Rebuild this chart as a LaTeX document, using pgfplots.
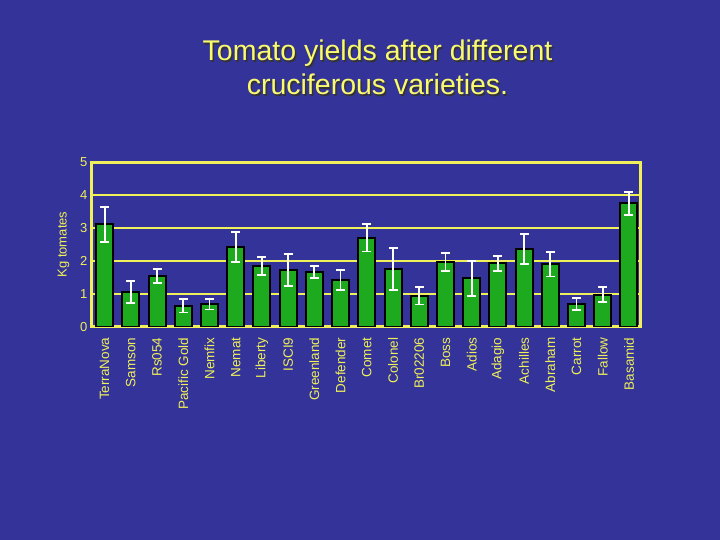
\documentclass[border=0pt]{standalone}
\usepackage{pgfplots}
\pgfplotsset{compat=1.18}
\usepackage{fontspec}
\setmainfont{Liberation Sans}
\definecolor{bg}{RGB}{51,51,153}
\definecolor{ylw}{RGB}{240,240,90}
\definecolor{titleylw}{RGB}{250,250,110}
\definecolor{bargreen}{RGB}{30,170,30}

\pgfplotstableread{
x y e
0 3.11 0.53
1 1.06 0.34
2 1.55 0.21
3 0.64 0.20
4 0.69 0.16
5 2.42 0.45
6 1.85 0.27
7 1.73 0.48
8 1.67 0.18
9 1.42 0.31
10 2.70 0.41
11 1.76 0.63
12 0.94 0.26
13 1.97 0.28
14 1.48 0.53
15 1.93 0.23
16 2.36 0.46
17 1.90 0.37
18 0.70 0.19
19 0.98 0.23
20 3.75 0.35
}\yields

\begin{document}
\begin{tikzpicture}[x=1pt,y=1pt]
\fill[bg] (0,0) rectangle (720,540);
% title with a soft shadow
\foreach \dx/\dy/\col in {1.5/-1.5/black!80, 0/0/titleylw}{
  \node[anchor=base, text=\col, font=\fontsize{28.5}{34}\selectfont] at (377.5+\dx,479+\dy) {Tomato yields after different};
  \node[anchor=base, text=\col, font=\fontsize{28.5}{34}\selectfont] at (377.5+\dx,445+\dy) {cruciferous varieties.};
}
\begin{axis}[
  at={(91pt,213pt)}, anchor=south west,
  scale only axis, width=549pt, height=165pt,
  xmin=-0.52, xmax=20.42, ymin=0, ymax=5,
  ytick={0,1,2,3,4,5},
  xtick=data,
  xticklabels={TerraNova,Samson,Rs054,Pacific Gold,Nemfix,Nemat,Liberty,ISCI9,Greenland,Defender,Comet,Colonel,Br02206,Boss,Adios,Adagio,Achilles,Abraham,Carrot,Fallow,Basamid},
  x tick label style={rotate=90, anchor=east, xshift=-7pt, font=\fontsize{13.5}{15}\selectfont},
  y tick label style={font=\fontsize{13}{15}\selectfont},
  ticklabel style={text=ylw},
  /pgf/number format/assume math mode=true,
  ymajorgrids, grid style={ylw, line width=2pt},
  axis line style={ylw, line width=3pt},
  major tick style={draw=none},
  ylabel={Kg tomates},
  ylabel style={text=ylw, font=\fontsize{13}{15}\selectfont, at={(axis description cs:-0.05,0.5)}, anchor=center},
]
\addplot[ybar, bar width=17pt, fill=bargreen, draw=black, line width=2pt,
  error bars/.cd, y dir=both, y explicit,
  error bar style={white, line width=1.8pt},
  error mark options={white, line width=1.8pt, mark size=4.5pt, rotate=90}]
  table[x=x, y=y, y error=e] {\yields};
\end{axis}
\end{tikzpicture}
\end{document}
